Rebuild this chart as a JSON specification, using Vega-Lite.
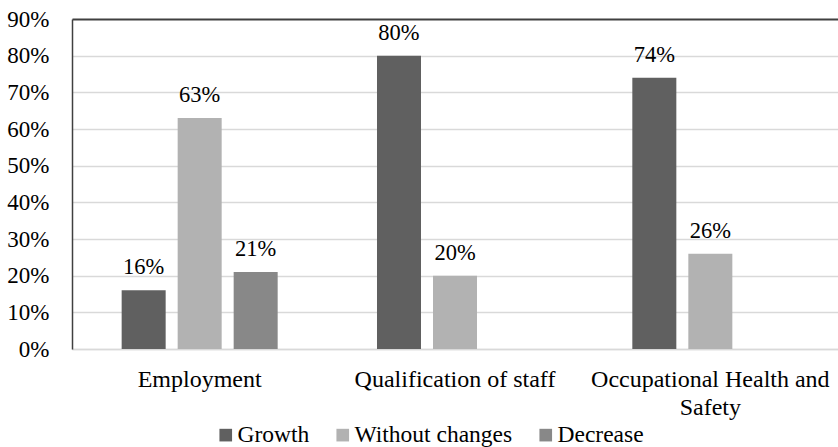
{
  "$schema": "https://vega.github.io/schema/vega-lite/v6.json",
  "width": 766,
  "height": 330,
  "autosize": {"type": "none"},
  "padding": {"left": 72, "top": 19, "right": 0, "bottom": 98},
  "config": {
    "font": "Liberation Serif",
    "view": {"stroke": null},
    "axis": {"labelColor": "#000000", "labelFont": "Liberation Serif", "labelFontSize": 23},
    "legend": {"labelFont": "Liberation Serif"},
    "text": {"font": "Liberation Serif"}
  },
  "data": {
    "values": [
      {"area": "Employment", "change": "Growth", "share": 0.16},
      {"area": "Employment", "change": "Without changes", "share": 0.63},
      {"area": "Employment", "change": "Decrease", "share": 0.21},
      {"area": "Qualification of staff", "change": "Growth", "share": 0.80},
      {"area": "Qualification of staff", "change": "Without changes", "share": 0.20},
      {"area": "Occupational Health and Safety", "change": "Growth", "share": 0.74},
      {"area": "Occupational Health and Safety", "change": "Without changes", "share": 0.26}
    ]
  },
  "encoding": {
    "x": {
      "field": "area",
      "type": "nominal",
      "sort": ["Employment", "Qualification of staff", "Occupational Health and Safety"],
      "scale": {"paddingInner": 0.342, "paddingOuter": 0.171},
      "axis": {
        "title": null,
        "labelAngle": 0,
        "labelFontSize": 24,
        "labelPadding": 18,
        "labelLimit": 0,
        "labelOverlap": false,
        "labelLineHeight": 28,
        "labelExpr": "datum.label == 'Occupational Health and Safety' ? ['Occupational Health and', 'Safety'] : datum.label",
        "ticks": false,
        "grid": false,
        "domainColor": "#d9d9d9",
        "domainWidth": 1.5
      }
    },
    "xOffset": {
      "field": "change",
      "type": "nominal",
      "sort": ["Growth", "Without changes", "Decrease"],
      "scale": {
        "domain": ["Growth", "Without changes", "Decrease"],
        "paddingInner": 0.2143,
        "paddingOuter": 0.1071
      }
    },
    "y": {
      "field": "share",
      "type": "quantitative",
      "scale": {"domain": [0, 0.9]},
      "axis": {
        "title": null,
        "values": [0, 0.1, 0.2, 0.3, 0.4, 0.5, 0.6, 0.7, 0.8, 0.9],
        "format": ".0%",
        "labelPadding": 23,
        "ticks": false,
        "domainColor": "#404040",
        "domainWidth": 1.5,
        "gridColor": {"condition": {"test": "datum.value >= 0.9", "value": "#404040"}, "value": "#d9d9d9"},
        "gridWidth": {"condition": {"test": "datum.value >= 0.9", "value": 2}, "value": 1.5}
      }
    }
  },
  "layer": [
    {
      "mark": {"type": "bar"},
      "encoding": {
        "color": {
          "field": "change",
          "type": "nominal",
          "scale": {
            "domain": ["Growth", "Without changes", "Decrease"],
            "range": ["#606060", "#b2b2b2", "#888888"]
          },
          "legend": {
            "title": null,
            "orient": "none",
            "direction": "horizontal",
            "legendX": 142,
            "legendY": 404,
            "padding": 0,
            "symbolType": "square",
            "symbolSize": 160,
            "symbolStrokeWidth": 0,
            "labelFontSize": 23.5,
            "labelColor": "#000000",
            "labelOffset": 0,
            "columnPadding": 21
          }
        }
      }
    },
    {
      "mark": {"type": "text", "baseline": "alphabetic", "dy": -16, "fontSize": 22.5, "color": "#000000"},
      "encoding": {"text": {"field": "share", "type": "quantitative", "format": ".0%"}}
    }
  ]
}
